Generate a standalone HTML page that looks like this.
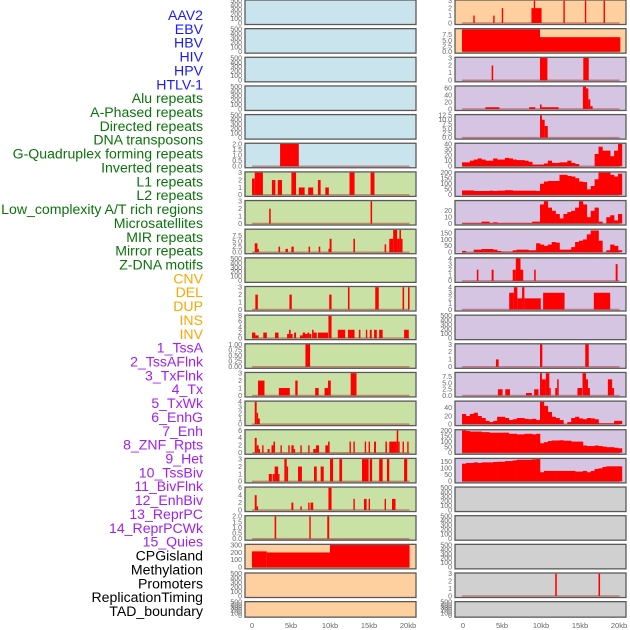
<!DOCTYPE html>
<html><head><meta charset="utf-8"><style>
html,body{margin:0;padding:0;background:#fff;}
svg{display:block;font-family:"Liberation Sans",sans-serif;}
</style></head><body>
<svg id="chart" width="630" height="630" viewBox="0 0 630 630" xmlns="http://www.w3.org/2000/svg">
<g id="labels"></g>
<g id="panels"></g>
<g id="xaxis"></g>
</svg>
<script>
const trackLabels = ["AAV2","EBV","HBV","HIV","HPV","HTLV-1","Alu repeats","A-Phased repeats","Directed repeats","DNA transposons","G-Quadruplex forming repeats","Inverted repeats","L1 repeats","L2 repeats","Low_complexity A/T rich regions","Microsatellites","MIR repeats","Mirror repeats","Z-DNA motifs","CNV","DEL","DUP","INS","INV","1_TssA","2_TssAFlnk","3_TxFlnk","4_Tx","5_TxWk","6_EnhG","7_Enh","8_ZNF_Rpts","9_Het","10_TssBiv","11_BivFlnk","12_EnhBiv","13_ReprPC","14_ReprPCWk","15_Quies","CPGisland","Methylation","Promoters","ReplicationTiming","TAD_boundary"];
const labelGroups = [6,13,5,15,5];
const groupColors = ["#1a1aff","#0b730b","#ffa500","#a020f0","#000000"];
const xTickKb = [0,5,10,15,20];
const xTickLabels = ["0","5kb","10kb","15kb","20kb"];
const emptyTicks = [0,100,200,300,400,500];
const leftBg = ["b","b","b","b","b","b","g","g","g","g","g","g","g","g","g","g","g","g","g","o","o","o"];
const rightBg = ["o","o","p","p","p","p","p","p","p","p","p","p","p","p","p","p","p","y","y","y","y","y"];

// segments: [startKb, endKb, value]
const segL5 = [[3.6,6.0,2]];
const segL6 = [[0,0.35,2.2],[0.35,1.4,3],[2.55,3.0,2],[3.3,3.85,2],[5.05,5.65,3],[6.0,6.75,1],[7.2,7.85,1],[8.45,8.8,2],[9.4,9.85,1],[12.5,13.15,3],[15.2,15.7,3]];
const segL7 = [[2.2,2.4,2],[15.2,15.4,3]];
const segL8 = [[0.35,0.7,4],[0.7,0.85,1.5],[3.4,3.6,2.5],[4.3,4.6,1.5],[5.05,5.35,2.5],[7.25,7.45,2.5],[8.55,8.75,2.5],[9.8,9.95,1.5],[9.95,10.2,6],[13.0,13.2,6],[17.0,17.2,3.5],[17.6,18.1,6],[18.1,18.6,10],[18.6,18.9,6],[18.9,19.1,10],[19.1,19.3,6]];
const segL10 = [[0.43,0.75,2],[4.8,5.1,2],[9.9,10.2,2],[12.3,12.5,3],[15.8,16.25,3],[19.3,19.5,3],[20.0,20.2,3]];
const segL11 = [[0,0.43,2],[0.43,0.85,1],[1.45,1.9,2],[2.95,3.4,2],[4.5,4.75,1.5],[4.75,4.95,3],[4.95,5.2,1.5],[5.4,5.65,2],[6.15,6.5,1],[6.5,6.8,2],[6.8,7.1,1.5],[7.1,7.35,2],[7.35,7.6,1.5],[7.7,7.9,3],[7.9,8.3,2],[8.45,9.75,2],[9.8,10.2,8],[11.0,11.95,3],[12.3,13.15,3],[13.7,13.9,3],[14.6,14.75,3],[15.1,15.35,3],[15.65,16.0,3],[16.3,16.75,3],[19.5,20.1,3]];
const segL12 = [[6.85,7.45,1]];
const segL13 = [[0.77,1.6,2],[3.45,4.85,1],[5.55,5.85,2],[8.1,8.55,1],[9.3,9.75,1],[9.75,10.1,2],[12.65,13.4,3]];
const segL14 = [[0.35,0.6,4],[0.6,0.77,2],[0.77,1.0,1]];
const segL15 = [[0.35,0.6,4],[0.6,0.85,2],[0.85,1.0,1],[1.3,1.45,2],[2.0,2.25,1],[2.5,2.75,2],[2.75,2.95,3],[3.65,3.8,2],[4.65,4.8,2],[5.05,5.35,2],[5.35,5.5,1],[6.2,6.35,2],[7.2,7.35,2],[7.85,8.2,1],[8.2,8.6,2],[9.4,9.75,2],[9.75,9.95,3],[12.5,12.65,3],[13.0,13.15,3],[14.45,14.6,3],[14.95,15.1,3],[15.65,15.9,3],[17.1,17.3,3],[17.6,18.55,3],[18.55,18.75,6],[18.75,18.9,3],[19.3,19.45,3],[19.9,20.05,3]];
const segL16 = [[2.15,2.55,1],[2.65,2.9,1],[2.9,3.35,2],[3.35,3.5,1],[4.15,4.45,3],[4.45,4.6,2],[5.9,6.4,2],[7.95,8.3,2],[8.8,9.2,2],[10.0,10.4,3],[11.2,11.55,3],[14.1,14.95,3],[15.1,15.4,3],[16.3,16.75,3],[17.3,17.6,3],[19.5,19.9,3]];
const segL17 = [[0.35,0.6,4],[0.6,0.77,1],[5.05,5.3,2],[6.2,6.35,1],[7.2,7.35,2],[7.5,7.85,2],[9.8,10.2,6],[13.0,13.15,3],[14.35,14.7,3],[14.95,15.1,3],[17.0,17.15,3],[17.95,18.4,3]];
const segL18 = [[2.9,3.1,2],[7.35,7.5,2],[9.65,9.9,2]];
const segL19 = [[0,1.9,215],[1.9,10.0,200],[10.0,20.2,300]];

const segR0 = [[1.45,1.6,1],[4.0,4.15,1],[5.1,5.25,2],[8.9,10.2,2],[9.2,9.35,3],[13.0,13.15,3],[15.75,15.9,3],[18.15,18.3,3]];
const segR1 = [[0,10.0,10],[10.0,20.3,6.5]];
const segR2 = [[3.8,4.0,2],[10.0,10.95,3],[15.55,16.25,3]];
const segR3 = [[3.0,4.8,5],[8.6,9.4,5],[10.0,10.2,13],[10.2,12.4,5],[15.5,15.9,65],[15.9,16.2,60],[16.2,16.45,28],[16.45,16.75,8]];
const segR4 = [[10.0,10.25,12.5],[10.25,10.6,10],[10.6,11.0,6.5]];
const segR9 = [[1.9,2.1,2],[3.8,4.05,2],[6.5,6.9,2],[6.9,7.5,4],[7.5,7.85,2],[9.25,9.45,2],[19.7,19.95,3]];
const segR10 = [[6.05,6.65,3],[6.65,7.1,4],[7.1,7.7,2],[7.7,8.0,4],[8.0,10.1,2],[10.4,13.15,3],[16.9,19.0,3]];
const segR12 = [[4.35,4.7,1],[10.0,10.3,3],[15.8,16.25,3]];
const segR13 = [[4.6,5.2,2.5],[5.55,6.15,2.5],[8.2,8.95,1],[9.25,9.8,2.5],[10.0,10.25,9],[10.25,10.75,6.5],[10.75,11.2,9],[11.2,11.35,3],[11.95,12.2,3],[12.2,12.4,6.5],[14.8,15.4,3],[15.45,15.9,9],[15.9,16.15,6.5],[16.15,16.4,3],[18.7,19.25,6.5],[19.25,19.5,3]];
const segR20 = [[11.95,12.15,3],[17.5,17.7,3]];

// binned series, 0.5kb bins starting at 0
const binsR5 = [7,7,10,12,14,12,10,10,14,12,12,15,14,12,11,11,10,8,3,3,3,5,10,6,6,7,7,10,6,4,0,0,0,0,22,35,28,28,18,28,40];
const binsR6 = [40,40,40,35,35,35,35,38,35,38,38,42,42,38,38,38,38,38,38,35,100,120,125,125,125,180,180,170,165,150,120,115,50,80,140,200,200,200,180,165,190];
const binsR7 = [1,1,1,1,1,3,3,1,2,1,1,1,1,1,1,1,1,1,3,3,30,35,25,20,15,8,15,18,20,25,35,30,10,20,25,3,0,10,13,5,15];
const binsR8 = [10,0,0,20,20,25,25,25,20,10,5,5,5,15,20,20,20,15,15,70,60,50,60,80,75,20,20,20,40,80,90,100,140,170,170,90,0,15,60,50,15];
const binsR14 = [25,20,25,28,20,15,8,5,8,18,18,15,10,12,15,15,13,12,13,10,55,45,30,18,15,10,0,5,15,18,14,12,15,14,12,2,2,2,2,8,8];
const binsR15 = [200,195,190,190,190,185,185,180,180,180,180,180,170,170,165,165,170,170,165,170,85,95,105,110,110,112,108,108,100,100,100,65,60,60,65,60,55,50,50,45,40];
const binsR16 = [135,140,140,145,140,145,145,145,148,150,150,155,155,160,165,165,165,165,168,170,70,80,80,80,80,80,80,80,80,75,75,80,70,80,95,100,110,115,115,115,115];

const leftPanels = [
 null,null,null,null,null,
 {seg:segL5,max:2,ticks:[0,0.5,1,1.5,2],dec:1},
 {seg:segL6,max:3,ticks:[0,1,2,3],dec:0},
 {seg:segL7,max:3,ticks:[0,1,2,3],dec:0},
 {seg:segL8,max:10,ticks:[0,2.5,5,7.5],dec:1},
 null,
 {seg:segL10,max:3,ticks:[0,1,2,3],dec:0},
 {seg:segL11,max:8,ticks:[0,2,4,6,8],dec:0},
 {seg:segL12,max:1,ticks:[0,0.25,0.5,0.75,1],dec:2},
 {seg:segL13,max:3,ticks:[0,1,2,3],dec:0},
 {seg:segL14,max:4,ticks:[0,1,2,3,4],dec:0},
 {seg:segL15,max:6,ticks:[0,2,4,6],dec:0},
 {seg:segL16,max:3,ticks:[0,1,2,3],dec:0},
 {seg:segL17,max:6,ticks:[0,2,4,6],dec:0},
 {seg:segL18,max:2,ticks:[0,0.5,1,1.5,2],dec:1},
 {seg:segL19,max:300,ticks:[0,100,200,300],dec:0},
 null,null
];
const rightPanels = [
 {seg:segR0,max:3,ticks:[0,1,2,3],dec:0},
 {seg:segR1,max:10,ticks:[0,2.5,5,7.5],dec:1},
 {seg:segR2,max:3,ticks:[0,1,2,3],dec:0},
 {seg:segR3,max:65,ticks:[0,20,40,60],dec:0},
 {seg:segR4,max:12.5,ticks:[0,2.5,5,7.5,10,12.5],dec:1},
 {bins:binsR5,max:40,ticks:[0,10,20,30,40],dec:0},
 {bins:binsR6,max:200,ticks:[0,50,100,150,200],dec:0},
 {bins:binsR7,max:35,ticks:[0,10,20],dec:0},
 {bins:binsR8,max:175,ticks:[0,50,100,150],dec:0},
 {seg:segR9,max:4,ticks:[0,1,2,3,4],dec:0},
 {seg:segR10,max:4,ticks:[0,1,2,3,4],dec:0},
 null,
 {seg:segR12,max:3,ticks:[0,1,2,3],dec:0},
 {seg:segR13,max:9,ticks:[0,2.5,5,7.5],dec:1},
 {bins:binsR14,max:55,ticks:[0,20,40],dec:0},
 {bins:binsR15,max:200,ticks:[0,50,100,150,200],dec:0},
 {bins:binsR16,max:170,ticks:[0,50,100,150],dec:0},
 null,null,null,
 {seg:segR20,max:3,ticks:[0,1,2,3],dec:0},
 null
];

const NS = "http://www.w3.org/2000/svg";
const bgColors = {b:"#c9e4ec",g:"#c9e1a5",o:"#fed09f",p:"#d5c5e2",y:"#d0d0d0"};
function mk(tag, attrs, parent){const e=document.createElementNS(NS,tag);for(const k in attrs)e.setAttribute(k,attrs[k]);parent.appendChild(e);return e;}

const lg = document.getElementById("labels");
let gi=0, cnt=0;
trackLabels.forEach((t,i)=>{
  while(cnt>=labelGroups[gi]){cnt=0;gi++;}
  cnt++;
  const el = mk("text",{x:203,y:15+i*13.86+5,"text-anchor":"end","font-size":"14.1",fill:groupColors[gi]},lg);
  el.textContent=t;
  
  
});

const pg = document.getElementById("panels");
const rowTop = r => r*28.65;
const rowH = r => r===21 ? 15.5 : 24.5;

function drawPanel(r, side){
  const x0 = side===0 ? 245 : 455;
  const w = 171;
  const top = rowTop(r), h = rowH(r);
  const p = side===0 ? leftPanels[r] : rightPanels[r];
  const bg = (side===0 ? leftBg : rightBg)[r];
  const g = mk("g",{},pg);
  
  
  mk("rect",{x:x0,y:top,width:w,height:h,fill:bgColors[bg]},g);
  const xs = kb => x0 + 7 + kb*7.8;
  const yTop = top+0.7, yBot = top+h-1.5;
  const max = p ? p.max : 500;
  const ys = v => yBot - (v/max)*(yBot-yTop);
  const ticks = p ? p.ticks : emptyTicks;
  const dec = p ? p.dec : 0;
  ticks.forEach(t=>{
    const tt = mk("text",{x:x0-3,y:ys(t)+2.3,"text-anchor":"end","font-size":"7",fill:"#666"},g);
    tt.textContent = t.toFixed(dec);
    
    
  });
  if(p){
    if(p.seg){
      p.seg.forEach(s=>{
        const b = mk("rect",{x:xs(s[0]),y:ys(s[2]),width:Math.max(1.4,xs(s[1])-xs(s[0])),height:yBot-ys(s[2]),fill:"#ff0000"},g);
        
        
      });
    } else {
      p.bins.forEach((v,i)=>{
        const b = mk("rect",{x:xs(i*0.5),y:ys(v),width:xs(0.5)-xs(0)+0.3,height:yBot-ys(v),fill:"#ff0000"},g);
        
        
      });
    }
    mk("line",{x1:xs(0),x2:xs(20.2),y1:yBot,y2:yBot,stroke:"rgba(170,30,30,0.45)","stroke-width":1.5},g);
  }
  mk("rect",{x:x0,y:top,width:w,height:h,fill:"none",stroke:"#5a5a5a","stroke-width":1.3},g);
}
for(let r=0;r<22;r++){drawPanel(r,0);drawPanel(r,1);}

const xg = document.getElementById("xaxis");
[252,463].forEach(base=>{
  xTickKb.forEach((k,i)=>{
    const t = mk("text",{x:base+k*7.8,y:628,"text-anchor":"middle","font-size":"7.5",fill:"#666"},xg);
    t.textContent = xTickLabels[i];
    
    
  });
});
</script>
</body></html>
